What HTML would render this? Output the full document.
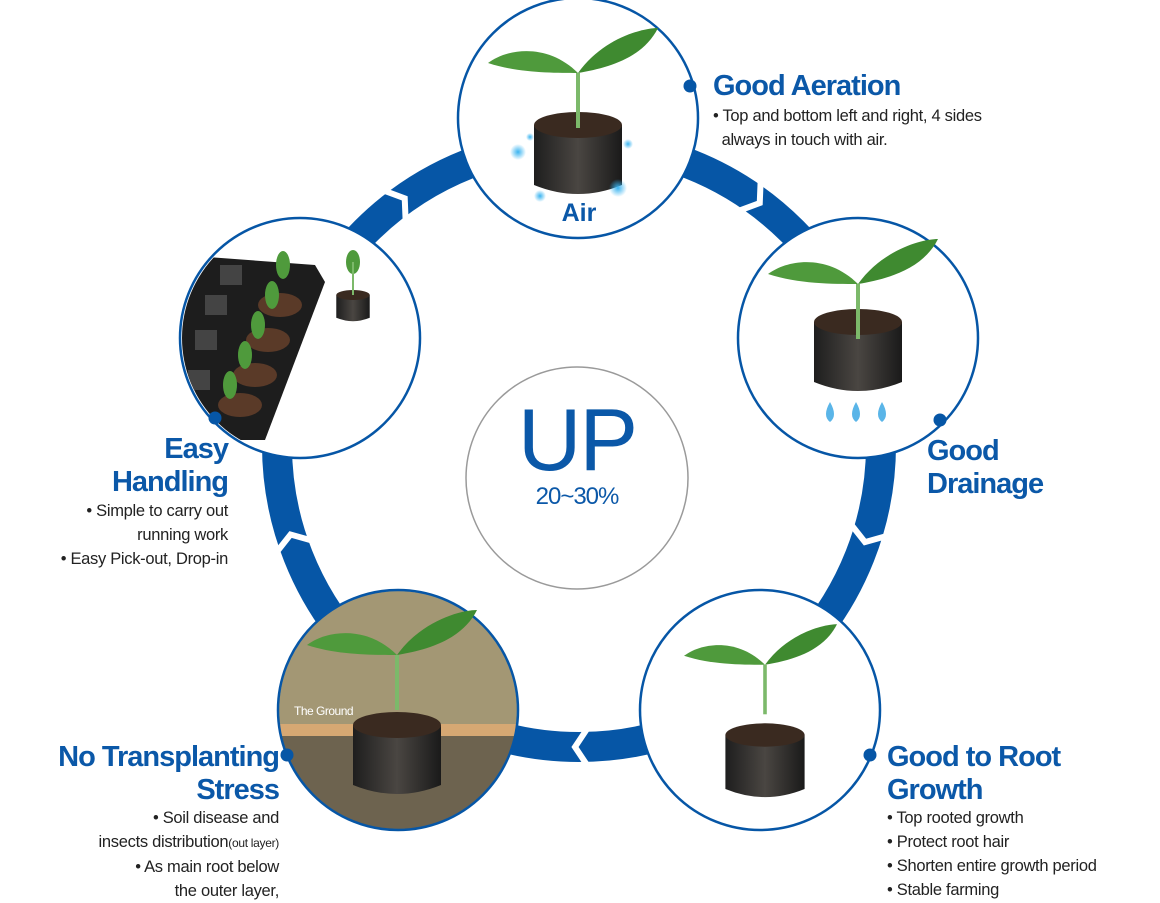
<!DOCTYPE html>
<html><head><meta charset="utf-8"><style>
html,body{margin:0;padding:0;background:#fff;}
body{width:1160px;height:900px;overflow:hidden;position:relative;font-family:"Liberation Sans",sans-serif;}
.h{position:absolute;color:#0b58a8;font-weight:bold;font-size:29px;letter-spacing:-1px;line-height:33px;}
.t{position:absolute;color:#222;font-size:16.5px;letter-spacing:-0.3px;line-height:24px;}
.r{text-align:right;}
</style></head><body>
<svg width="1160" height="900" style="position:absolute;left:0;top:0">
<defs>
<radialGradient id="air"><stop offset="0" stop-color="#3ab4f0"/><stop offset="1" stop-color="#3ab4f0" stop-opacity="0"/></radialGradient>
<linearGradient id="potg" x1="0" x2="1"><stop offset="0" stop-color="#1e1e1e"/><stop offset=".5" stop-color="#4a4642"/><stop offset="1" stop-color="#1a1a1a"/></linearGradient>
<g id="plant">
<path d="M0,0 C-30,-30 -70,-25 -90,-10 C-60,0 -25,0 0,0Z" fill="#4f9a3c"/>
<path d="M0,0 C25,-35 65,-45 80,-45 C65,-15 30,-5 0,0Z" fill="#3f8a30"/>
<path d="M-2,0 L-2,55 L2,55 L2,0Z" fill="#7cb96a"/>
</g>
<g id="pot">
<path d="M-44,0 L-44,60 Q0,78 44,60 L44,0Z" fill="url(#potg)"/>
<ellipse cx="0" cy="0" rx="44" ry="13" fill="#3a2a20"/>
</g>
</defs>
<!-- ring -->
<circle cx="579" cy="445" r="302" fill="none" stroke="#0656a6" stroke-width="30"/>
<g fill="none" stroke="#fff" stroke-width="6">
<polyline points="571,125 583,143 571,161" transform="rotate(-36 579 445)"/>
<polyline points="571,125 583,143 571,161" transform="rotate(36 579 445)"/>
<polyline points="571,125 583,143 571,161" transform="rotate(108 579 445)"/>
<polyline points="571,125 583,143 571,161" transform="rotate(180 579 445)"/>
<polyline points="571,125 583,143 571,161" transform="rotate(252 579 445)"/>
</g>
<!-- center -->
<circle cx="577" cy="478" r="111" fill="#fff" stroke="#9a9a9a" stroke-width="1.5"/>
<text x="577" y="470" text-anchor="middle" font-family="Liberation Sans,sans-serif" font-size="88" fill="#0b58a8" letter-spacing="-2">UP</text>
<text x="577" y="504" text-anchor="middle" font-family="Liberation Sans,sans-serif" font-size="24" fill="#0b58a8" letter-spacing="-1">20~30%</text>
<!-- circles -->
<circle cx="578" cy="118" r="120" fill="#fff" stroke="#0656a6" stroke-width="2.5"/>
<circle cx="858" cy="338" r="120" fill="#fff" stroke="#0656a6" stroke-width="2.5"/>
<circle cx="760" cy="710" r="120" fill="#fff" stroke="#0656a6" stroke-width="2.5"/>
<circle cx="300" cy="338" r="120" fill="#fff" stroke="#0656a6" stroke-width="2.5"/>
<clipPath id="cl"><circle cx="398" cy="710" r="119"/></clipPath>
<g clip-path="url(#cl)">
<rect x="270" y="580" width="260" height="260" fill="#a39774"/>
<rect x="270" y="733" width="260" height="110" fill="#6d634f"/>
<rect x="270" y="724" width="260" height="12" fill="#d6a873"/>
</g>
<circle cx="398" cy="710" r="120" fill="none" stroke="#0656a6" stroke-width="2.5"/>
<text x="294" y="715" font-family="Liberation Sans,sans-serif" font-size="12" fill="#fff" letter-spacing="-0.5">The Ground</text>
<!-- top plant -->
<g transform="translate(578,125)"><use href="#pot"/><use href="#plant" transform="translate(0,-52)"/></g>
<circle cx="518" cy="152" r="8" fill="url(#air)"/><circle cx="618" cy="188" r="9" fill="url(#air)"/><circle cx="540" cy="196" r="6" fill="url(#air)"/><circle cx="628" cy="144" r="5" fill="url(#air)"/><circle cx="530" cy="137" r="4" fill="url(#air)"/>
<text x="579" y="221" text-anchor="middle" font-family="Liberation Sans,sans-serif" font-size="25" font-weight="bold" fill="#0b58a8">Air</text>
<!-- right plant -->
<g transform="translate(858,322)"><use href="#pot"/><use href="#plant" transform="translate(0,-38)"/></g>
<g fill="#5ab5e8"><path d="M830,402 q-8,14 0,20 q8,-6 0,-20z"/><path d="M856,402 q-8,14 0,20 q8,-6 0,-20z"/><path d="M882,402 q-8,14 0,20 q8,-6 0,-20z"/></g>
<!-- bottom right -->
<g transform="translate(765,735) scale(0.9)"><use href="#pot"/><use href="#plant" transform="translate(0,-78)"/></g>
<!-- bottom left -->
<g transform="translate(397,725)"><use href="#pot"/><use href="#plant" transform="translate(0,-70)"/></g>
<!-- left tray -->
<clipPath id="cl2"><circle cx="300" cy="338" r="118"/></clipPath>
<g clip-path="url(#cl2)">
<path d="M180,255 L315,265 L325,282 L265,440 L180,440Z" fill="#1d1d1d"/>
<g fill="#444"><rect x="220" y="265" width="22" height="20"/><rect x="205" y="295" width="22" height="20"/><rect x="195" y="330" width="22" height="20"/><rect x="188" y="370" width="22" height="20"/></g>
<g fill="#5a3a28"><ellipse cx="280" cy="305" rx="22" ry="12"/><ellipse cx="268" cy="340" rx="22" ry="12"/><ellipse cx="255" cy="375" rx="22" ry="12"/><ellipse cx="240" cy="405" rx="22" ry="12"/></g>
<g fill="#4f9a3c"><ellipse cx="283" cy="265" rx="7" ry="14"/><ellipse cx="272" cy="295" rx="7" ry="14"/><ellipse cx="258" cy="325" rx="7" ry="14"/><ellipse cx="245" cy="355" rx="7" ry="14"/><ellipse cx="230" cy="385" rx="7" ry="14"/></g>
</g>
<g transform="translate(353,295) scale(0.38)"><use href="#pot"/></g>
<ellipse cx="353" cy="262" rx="7" ry="12" fill="#4f9a3c"/><rect x="352" y="262" width="2" height="33" fill="#7cb96a"/>
<!-- dots -->
<g fill="#0656a6"><circle cx="690" cy="86" r="6.5"/><circle cx="940" cy="420" r="6.5"/><circle cx="870" cy="755" r="6.5"/><circle cx="287" cy="755" r="6.5"/><circle cx="215" cy="418" r="6.5"/></g>
</svg>
<div class="h" style="left:713px;top:70px">Good Aeration</div>
<div class="t" style="left:713px;top:104px">• Top and bottom left and right, 4 sides<br>&nbsp;&nbsp;always in touch with air.</div>
<div class="h" style="left:927px;top:435px">Good<br>Drainage</div>
<div class="h" style="left:887px;top:741px">Good to Root<br>Growth</div>
<div class="t" style="left:887px;top:806px">• Top rooted growth<br>• Protect root hair<br>• Shorten entire growth period<br>• Stable farming</div>
<div class="h r" style="right:881px;top:741px">No Transplanting<br>Stress</div>
<div class="t r" style="right:881px;top:806px">• Soil disease and<br>insects distribution<span style="font-size:12px">(out layer)</span><br>• As main root below<br>the outer layer,</div>
<div class="h r" style="right:932px;top:433px">Easy<br>Handling</div>
<div class="t r" style="right:932px;top:499px">• Simple to carry out<br>running work<br>• Easy Pick-out, Drop-in</div>
</body></html>
